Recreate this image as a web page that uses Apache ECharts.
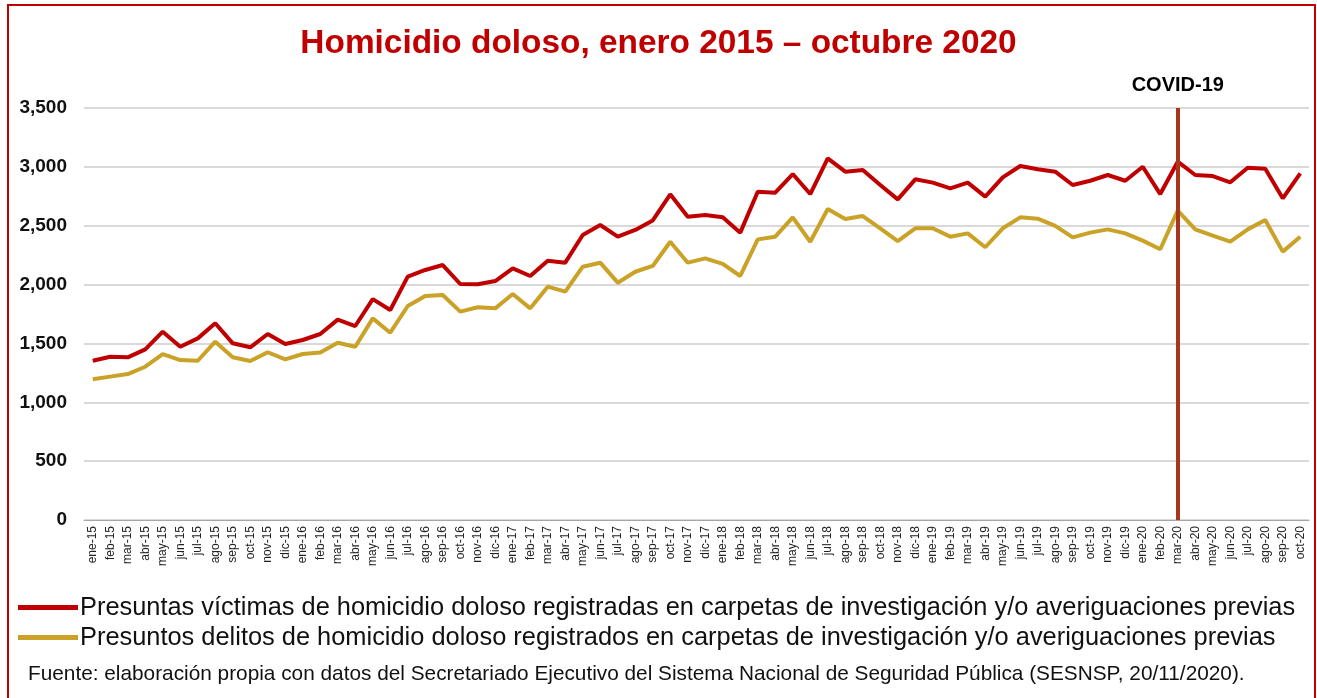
<!DOCTYPE html>
<html>
<head>
<meta charset="utf-8">
<script src="https://cdn.jsdelivr.net/npm/echarts@6/dist/echarts.min.js"></script>
<style>
  html, body { margin: 0; padding: 0; background: #fff; }
  #chart { width: 1317px; height: 698px; }
</style>
</head>
<body>
<div id="chart"></div>
<script>
// months ene-15 .. oct-20
const monthNames = ['ene', 'feb', 'mar', 'abr', 'may', 'jun', 'jul', 'ago', 'sep', 'oct', 'nov', 'dic'];
const years = ['15', '16', '17', '18', '19', '20'];
const categories = [];
years.forEach(y => monthNames.forEach(m => categories.push(m + '-' + y)));
categories.length = 70;

const victimas = [
  1353, 1387, 1382, 1450, 1600, 1472, 1543, 1671, 1501, 1467, 1580, 1495,
  1529, 1580, 1702, 1648, 1876, 1784, 2067, 2124, 2166, 2005, 2002, 2030,
  2138, 2073, 2203, 2186, 2421, 2506, 2407, 2464, 2545, 2767, 2577, 2591,
  2571, 2441, 2789, 2781, 2939, 2769, 3072, 2959, 2973, 2846, 2724, 2894,
  2866, 2818, 2866, 2747, 2911, 3007, 2979, 2959, 2846, 2882, 2931, 2882,
  3001, 2769, 3044, 2931, 2922, 2869, 2993, 2984, 2733, 2945
];

const delitos = [
  1195, 1218, 1240, 1302, 1410, 1359, 1353, 1515, 1382, 1351, 1425, 1365,
  1410, 1422, 1506, 1472, 1713, 1591, 1818, 1903, 1911, 1770, 1807, 1798,
  1920, 1798, 1982, 1940, 2152, 2186, 2016, 2109, 2158, 2364, 2186, 2223,
  2175, 2073, 2384, 2407, 2571, 2364, 2642, 2557, 2582, 2478, 2370, 2478,
  2478, 2407, 2435, 2317, 2478, 2571, 2560, 2498, 2401, 2441, 2469, 2435,
  2373, 2300, 2628, 2469, 2415, 2364, 2469, 2548, 2280, 2407
];

const yTicks = { min: 0, max: 3500, interval: 500 };
const covidMonth = 'mar-20';

const chart = echarts.init(document.getElementById('chart'));

const option = {
  backgroundColor: '#fff',
  animation: false,
  title: {
    text: 'Homicidio doloso, enero 2015 \u2013 octubre 2020',
    left: 'center',
    top: 22,
    textStyle: {
      color: '#C00000',
      fontFamily: 'Liberation Sans',
      fontWeight: 'bold',
      fontSize: 33.4
    }
  },
  legend: {
    orient: 'vertical',
    left: 18,
    top: 595,
    padding: 0,
    itemWidth: 60,
    itemHeight: 5,
    itemGap: 5,
    icon: 'rect',
    textStyle: {
      fontFamily: 'Liberation Sans',
      fontSize: 25.4,
      color: '#111',
      padding: [0, 0, 0, -3]
    }
  },
  grid: { left: 84, right: 8, top: 108, bottom: 178 },
  xAxis: {
    type: 'category',
    data: categories,
    boundaryGap: true,
    axisLine: { lineStyle: { color: '#a6a6a6', width: 1 } },
    axisTick: { inside: true, length: 4, lineStyle: { color: '#a6a6a6' } },
    axisLabel: {
      rotate: 90,
      interval: 0,
      fontFamily: 'Liberation Sans',
      fontSize: 12,
      color: '#222',
      margin: 6
    }
  },
  yAxis: {
    type: 'value',
    min: yTicks.min,
    max: yTicks.max,
    interval: yTicks.interval,
    axisLine: { show: false },
    axisTick: { show: false },
    splitLine: { lineStyle: { color: '#d9d9d9', width: 2 } },
    axisLabel: {
      fontFamily: 'Liberation Sans',
      fontWeight: 'bold',
      fontSize: 19,
      color: '#111',
      margin: 17,
      formatter: v => v.toLocaleString('en-US')
    }
  },
  series: [
    {
      name: 'Presuntas víctimas de homicidio doloso registradas en carpetas de investigación y/o averiguaciones previas',
      type: 'line',
      data: victimas,
      symbol: 'none',
      color: '#C00000',
      lineStyle: { width: 4, color: '#C00000' },
      z: 3,
      markLine: {
        silent: true,
        symbol: 'none',
        animation: false,
        lineStyle: { color: '#A8361C', width: 4, type: 'solid' },
        label: {
          show: true,
          position: 'end',
          formatter: 'COVID-19',
          color: '#000',
          fontFamily: 'Liberation Sans',
          fontWeight: 'bold',
          fontSize: 20,
          distance: 13
        },
        data: [{ xAxis: covidMonth }]
      }
    },
    {
      name: 'Presuntos delitos de homicidio doloso registrados en carpetas de investigación y/o averiguaciones previas',
      type: 'line',
      data: delitos,
      symbol: 'none',
      color: '#C9A227',
      lineStyle: { width: 4, color: '#C9A227' },
      z: 2
    }
  ],
  graphic: [
    {
      type: 'rect',
      shape: { x: 8, y: 5, width: 1307, height: 720 },
      style: { fill: 'none', stroke: '#C00000', lineWidth: 2 },
      silent: true
    },
    {
      type: 'text',
      left: 28,
      top: 664,
      style: {
        text: 'Fuente: elaboración propia con datos del Secretariado Ejecutivo del Sistema Nacional de Seguridad Pública (SESNSP, 20/11/2020).',
        fontFamily: 'Liberation Sans',
        fontSize: 20.8,
        fill: '#111'
      }
    }
  ]
};

chart.setOption(option);
</script>
</body>
</html>
